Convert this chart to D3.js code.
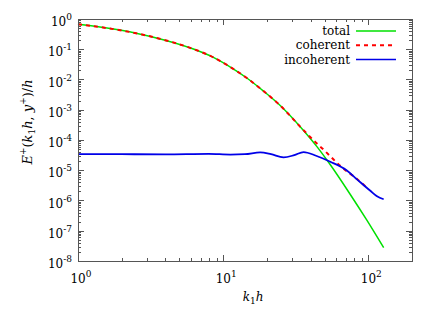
<!DOCTYPE html>
<html>
<head>
<meta charset="utf-8">
<script src="https://cdn.jsdelivr.net/npm/d3@7"></script>
<style>
body { margin: 0; background: #fff; }
svg { display: block; }
text { font-family: "DejaVu Serif", serif; fill: #000; }
</style>
</head>
<body>
<div id="chart"></div>
<script>
// values
const seriesNames = ["total", "coherent", "incoherent"];

const kTotal = [1, 1.585, 2.512, 3.981, 6.31, 8.57, 11.22, 14.55, 19.05, 24.72, 33.96, 44.26, 53.83, 75.16, 97.95, 127.6];
const eTotal = [0.668, 0.501, 0.339, 0.1995, 0.1, 0.0537, 0.0257, 0.01122, 0.00407, 0.00138, 2.75e-4, 6.03e-5, 1.70e-5, 1.58e-6, 2.19e-7, 2.75e-8];

const kCoherent = [1, 1.585, 2.512, 3.981, 6.31, 8.57, 11.22, 14.55, 19.05, 24.72, 33.96, 44.26, 48.98, 59.16, 67.6, 83.6, 100];
const eCoherent = [0.668, 0.501, 0.339, 0.1995, 0.1, 0.0537, 0.0257, 0.01122, 0.00407, 0.00138, 2.75e-4, 7.6e-5, 4.9e-5, 2.0e-5, 1.12e-5, 5.13e-6, 2.4e-6];

const kIncoherent = [1, 1.995, 3.981, 7.943, 11.22, 14.13, 17.99, 21.38, 26.06, 30.9, 35.81, 43.65, 54.7, 70.79, 83.56, 103.3, 114.8, 127.6];
const eIncoherent = [3.39e-5, 3.39e-5, 3.35e-5, 3.47e-5, 3.31e-5, 3.39e-5, 3.9e-5, 3.39e-5, 2.65e-5, 3.16e-5, 4.0e-5, 3.02e-5, 1.91e-5, 1.0e-5, 5.01e-6, 2.09e-6, 1.38e-6, 1.10e-6];

const xDomain = [1, 200];
const yDomain = [1e-8, 1];
const xMajors = [1, 10, 100];
const yMajors = [1e0, 1e-1, 1e-2, 1e-3, 1e-4, 1e-5, 1e-6, 1e-7, 1e-8];

const W = 436, H = 309;
const margin = {top: 19, right: 24, bottom: 48, left: 78};

const svg = d3.select("#chart").append("svg")
  .attr("width", W)
  .attr("height", H);

const x = d3.scaleLog().domain(xDomain).range([margin.left, W - margin.right]);
const y = d3.scaleLog().domain(yDomain).range([H - margin.bottom, margin.top]);

const x0 = margin.left, x1 = W - margin.right;
const y0 = H - margin.bottom, y1 = margin.top;

// ticks, inside and mirrored like gnuplot
const tickColor = "#555";
const gTicks = svg.append("g").attr("stroke", tickColor).attr("stroke-width", 1);

function isMajor(v) {
  const l = Math.log10(v);
  return Math.abs(l - Math.round(l)) < 1e-9;
}

const xMinor = x.ticks(30).filter(v => v > xDomain[0] && v < xDomain[1]);
xMinor.forEach(v => {
  const len = isMajor(v) ? 6 : 3;
  const px = Math.round(x(v)) + 0.5;
  gTicks.append("line").attr("x1", px).attr("x2", px).attr("y1", y0).attr("y2", y0 - len);
  gTicks.append("line").attr("x1", px).attr("x2", px).attr("y1", y1).attr("y2", y1 + len);
});

const yMinor = y.ticks(80).filter(v => v > yDomain[0] && v < yDomain[1]);
yMinor.forEach(v => {
  const len = isMajor(v) ? 6 : 3;
  const py = Math.round(y(v)) + 0.5;
  gTicks.append("line").attr("x1", x0).attr("x2", x0 + len).attr("y1", py).attr("y2", py);
  gTicks.append("line").attr("x1", x1).attr("x2", x1 - len).attr("y1", py).attr("y2", py);
});

// tick labels
function powLabel(g, v, px, py, anchor) {
  const e = Math.round(Math.log10(v));
  const t = g.append("text")
    .attr("x", px).attr("y", py)
    .attr("text-anchor", anchor)
    .style("font-size", "12px");
  t.append("tspan").text("10");
  t.append("tspan").attr("dy", -6).style("font-size", "9px").text(e);
}

const gLab = svg.append("g");
yMajors.forEach(v => powLabel(gLab, v, x0 - 6, y(v) + 7, "end"));
xMajors.forEach(v => powLabel(gLab, v, x(v) + 3, y0 + 22, "middle"));

// lines
const line = d3.line()
  .x(d => x(d[0]))
  .y(d => y(d[1]))
  .curve(d3.curveMonotoneX);

const plot = svg.append("g");
plot.append("path")
  .datum(d3.zip(kTotal, eTotal))
  .attr("fill", "none").attr("stroke", "#00e000").attr("stroke-width", 1.5)
  .attr("d", line);
plot.append("path")
  .datum(d3.zip(kCoherent, eCoherent))
  .attr("fill", "none").attr("stroke", "#ff0000").attr("stroke-width", 2)
  .attr("stroke-dasharray", "4,4")
  .attr("d", line);
plot.append("path")
  .datum(d3.zip(kIncoherent, eIncoherent))
  .attr("fill", "none").attr("stroke", "#0000e8").attr("stroke-width", 1.8)
  .attr("d", line);

// border
svg.append("rect")
  .attr("x", x0 + 0.5).attr("y", y1 + 0.5)
  .attr("width", x1 - x0).attr("height", y0 - y1)
  .attr("fill", "none").attr("stroke", tickColor).attr("stroke-width", 1);

// legend
const legColors = ["#00e000", "#ff0000", "#0000e8"];
const legend = svg.append("g");
seriesNames.forEach((name, i) => {
  const ly = 31 + i * 14.3;
  legend.append("text")
    .attr("x", 350).attr("y", ly + 4)
    .attr("text-anchor", "end")
    .style("font-size", "12px")
    .text(name);
  legend.append("line")
    .attr("x1", 356).attr("x2", 396).attr("y1", ly).attr("y2", ly)
    .attr("stroke", legColors[i])
    .attr("stroke-width", i === 1 ? 2 : 1.5)
    .attr("stroke-dasharray", i === 1 ? "4,4" : null);
});

// axis titles
svg.append("text")
  .attr("x", 253).attr("y", 301)
  .attr("text-anchor", "middle")
  .style("font-size", "12px")
  .style("font-style", "italic")
  .call(t => {
    t.append("tspan").text("k");
    t.append("tspan").attr("dy", 3).style("font-size", "9px").style("font-style", "normal").text("1");
    t.append("tspan").attr("dy", -3).text("h");
  });

svg.append("text")
  .attr("transform", "translate(32,122) rotate(-90)")
  .attr("text-anchor", "middle")
  .style("font-size", "13px")
  .call(t => {
    t.append("tspan").style("font-style", "italic").text("E");
    t.append("tspan").attr("dy", -6).style("font-size", "9px").text("+");
    t.append("tspan").attr("dy", 6).text("(");
    t.append("tspan").style("font-style", "italic").text("k");
    t.append("tspan").attr("dy", 3).style("font-size", "9px").text("1");
    t.append("tspan").attr("dy", -3).style("font-style", "italic").text("h");
    t.append("tspan").text(", ");
    t.append("tspan").style("font-style", "italic").text("y");
    t.append("tspan").attr("dy", -6).style("font-size", "9px").text("+");
    t.append("tspan").attr("dy", 6).text(")/");
    t.append("tspan").style("font-style", "italic").text("h");
  });
</script>
</body>
</html>
